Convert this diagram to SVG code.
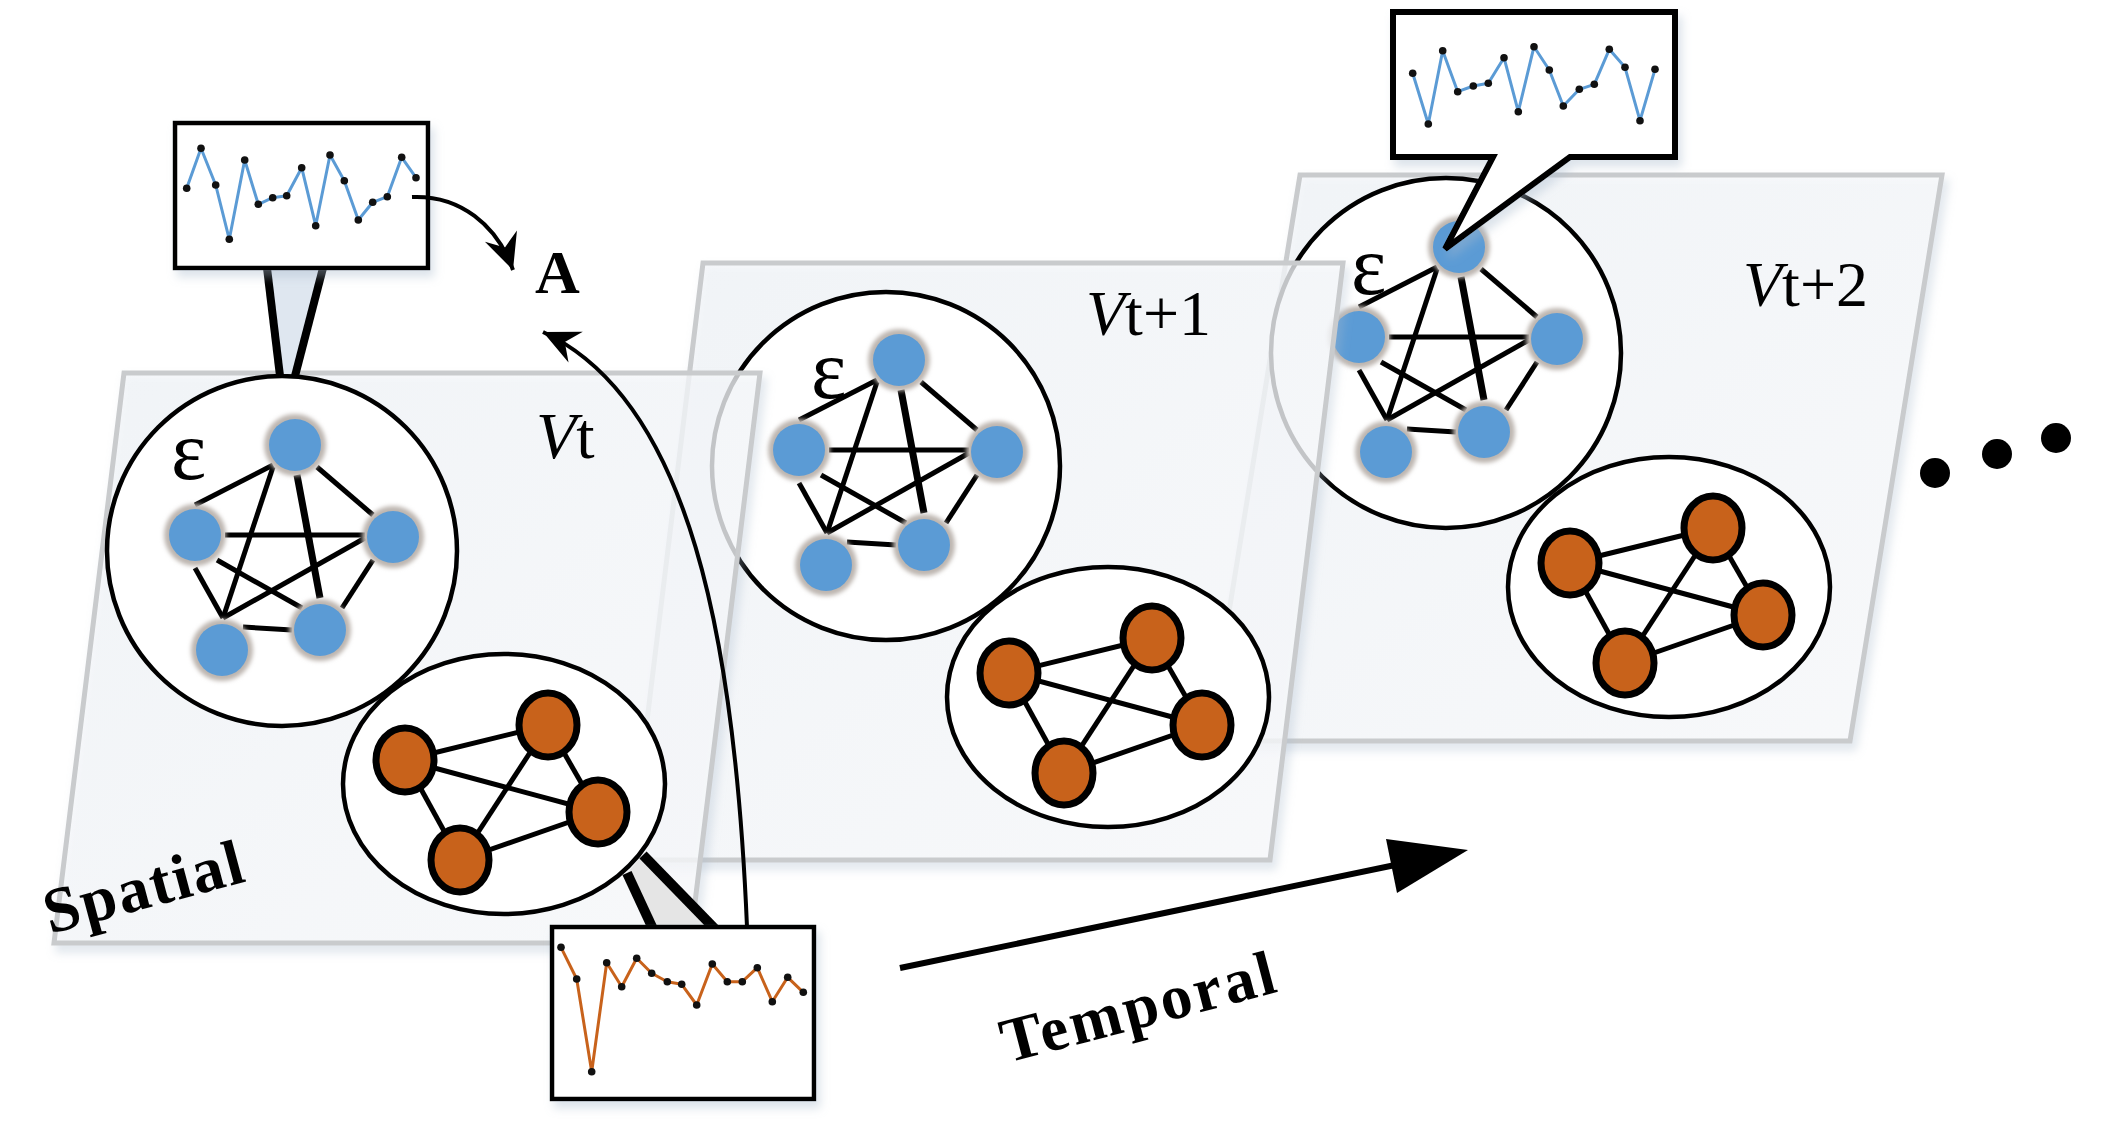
<svg xmlns="http://www.w3.org/2000/svg" width="2106" height="1144" viewBox="0 0 2106 1144">
<defs>
<style>
.plane{fill:url(#pg);fill-opacity:0.72;stroke:#c9cbcd;stroke-width:5;stroke-linejoin:miter}
.big{fill:#fff;stroke:#000;stroke-width:4.5}
.e{stroke:#000;stroke-width:5}
.et{stroke:#000;stroke-width:7}
.halo{fill:#bdb6b0}
.bn{fill:#5b9bd5}
.on{fill:#c8621b;stroke:#000;stroke-width:7}
.box{fill:#fff;stroke:#000;stroke-width:4.5}
.sb{fill:none;stroke:#5b9bd5;stroke-width:3;stroke-linejoin:round}
.so{fill:none;stroke:#c8621b;stroke-width:3;stroke-linejoin:round}
.dot{fill:#111}
.lbl{fill:#000}
.conn{fill:none;stroke:#000;stroke-width:4}
.wl{stroke:#000;stroke-width:8}
</style>
<linearGradient id="pg" x1="0" y1="0" x2="1" y2="1">
<stop offset="0" stop-color="#f3f6f9"/><stop offset="1" stop-color="#fdfdfe"/>
</linearGradient>
<filter id="sh" x="-10%" y="-10%" width="130%" height="130%">
<feDropShadow dx="4" dy="7" stdDeviation="5" flood-color="#a9b9cc" flood-opacity="0.4"/>
</filter>
<filter id="blur" x="-50%" y="-50%" width="200%" height="200%"><feGaussianBlur stdDeviation="2"/></filter>
<marker id="ah" viewBox="-38 -19 40 38" refX="0" refY="0" markerWidth="40" markerHeight="38" markerUnits="userSpaceOnUse" orient="auto">
<path d="M0,0 L-36,-17 L-24,0 L-36,17 Z" fill="#000"/>
</marker>
<g id="pent">
<line class="e" x1="-87" y1="-46" x2="-9" y2="-86"/>
<line class="e" x1="-9" y1="-84" x2="-59" y2="67"/>
<line class="et" x1="15" y1="-76" x2="38" y2="47"/>
<line class="e" x1="35" y1="-84" x2="91" y2="-36"/>
<line class="e" x1="-57" y1="-16" x2="83" y2="-16"/>
<line class="e" x1="-65" y1="9" x2="20" y2="57"/>
<line class="e" x1="83" y1="-13" x2="-59" y2="67"/>
<line class="e" x1="-87" y1="17" x2="-59" y2="67"/>
<line class="e" x1="91" y1="9" x2="60" y2="57"/>
<line class="e" x1="-39" y1="76" x2="10" y2="79"/>
<circle class="halo" cx="13" cy="-106" r="31" filter="url(#blur)"/><circle class="bn" cx="13" cy="-106" r="26"/>
<circle class="halo" cx="-87" cy="-16" r="31" filter="url(#blur)"/><circle class="bn" cx="-87" cy="-16" r="26"/>
<circle class="halo" cx="111" cy="-14" r="31" filter="url(#blur)"/><circle class="bn" cx="111" cy="-14" r="26"/>
<circle class="halo" cx="-60" cy="99" r="31" filter="url(#blur)"/><circle class="bn" cx="-60" cy="99" r="26"/>
<circle class="halo" cx="38" cy="79" r="31" filter="url(#blur)"/><circle class="bn" cx="38" cy="79" r="26"/>
</g>
<g id="k4">
<line class="e" x1="-99" y1="-24" x2="44" y2="-59"/>
<line class="e" x1="-99" y1="-24" x2="94" y2="28"/>
<line class="e" x1="-99" y1="-24" x2="-44" y2="76"/>
<line class="e" x1="44" y1="-59" x2="-44" y2="76"/>
<line class="e" x1="44" y1="-59" x2="94" y2="28"/>
<line class="e" x1="-44" y1="76" x2="94" y2="28"/>
<ellipse class="on" cx="-99" cy="-24" rx="29" ry="32"/>
<ellipse class="on" cx="44" cy="-59" rx="29" ry="32"/>
<ellipse class="on" cx="94" cy="28" rx="29" ry="32"/>
<ellipse class="on" cx="-44" cy="76" rx="29" ry="32"/>
</g>
</defs>
<rect width="2106" height="1144" fill="#fff"/>

<g id="plane-t2">
<polygon class="plane" points="1300,175 1942,175 1850,741 1208,741" filter="url(#sh)"/>
<g id="cluster-t2-blue"><circle class="big" cx="1446" cy="353" r="175"/><use href="#pent" x="1446" y="353"/>
<text class="lbl" font-family="Liberation Serif, Times New Roman, serif" x="1351" y="294" font-size="84">ε</text></g>
<g id="cluster-t2-orange"><ellipse class="big" cx="1669" cy="587" rx="161" ry="130"/><use href="#k4" x="1669" y="587"/></g>
<text class="lbl" font-family="Liberation Serif, Times New Roman, serif" x="1743" y="306" font-size="64"><tspan font-style="italic">V</tspan>t+2</text>
</g>

<g id="plane-t1">
<polygon class="plane" points="703,263 1343,263 1270,860 630,860" filter="url(#sh)"/>
<g id="cluster-t1-blue"><circle class="big" cx="886" cy="466" r="174"/><use href="#pent" x="886" y="466"/>
<text class="lbl" font-family="Liberation Serif, Times New Roman, serif" x="811" y="398" font-size="84">ε</text></g>
<g id="cluster-t1-orange"><ellipse class="big" cx="1108" cy="697" rx="161" ry="130"/><use href="#k4" x="1108" y="697"/></g>
<text class="lbl" font-family="Liberation Serif, Times New Roman, serif" x="1086" y="335" font-size="64"><tspan font-style="italic">V</tspan>t+1</text>
</g>

<g id="plane-t0">
<polygon class="plane" points="124,373 760,373 690,943 54,943" filter="url(#sh)"/>
<g id="cluster-t0-blue"><circle class="big" cx="282" cy="551" r="175"/><use href="#pent" x="282" y="551"/>
<text class="lbl" font-family="Liberation Serif, Times New Roman, serif" x="171" y="479" font-size="84">ε</text></g>
<g id="cluster-t0-orange"><ellipse class="big" cx="504" cy="784" rx="161" ry="130"/><use href="#k4" x="504" y="784"/></g>
<text class="lbl" font-family="Liberation Serif, Times New Roman, serif" x="536" y="458" font-size="66"><tspan font-style="italic">V</tspan>t</text>
<text class="lbl" font-family="Liberation Serif, Times New Roman, serif" font-weight="bold" x="50" y="934" font-size="64" letter-spacing="2" transform="rotate(-15 50 934)">Spatial</text>
</g>

<g id="series-blue-1">
<polygon points="267,268 323,268 296,374 279,374" fill="#dfe7f0"/>
<line class="wl" x1="267" y1="268" x2="280" y2="376"/>
<line class="wl" x1="323" y1="268" x2="295" y2="376"/>
<rect class="box" x="175" y="123" width="253" height="145" filter="url(#sh)"/>
<polyline class="sb" points="186.7,188.3 201,148.3 215.7,185 229.3,239.3 244.7,160 258.3,204.3 272.7,197.7 286.7,195.7 301.7,167.7 315.7,225.7 330,155 344.3,180.7 358.3,220 372.7,202.3 387.3,196.7 401.7,157.3 416,177.7"/>
<g class="dot">
<circle cx="186.7" cy="188.3" r="3.8"/><circle cx="201" cy="148.3" r="3.8"/><circle cx="215.7" cy="185" r="3.8"/><circle cx="229.3" cy="239.3" r="3.8"/><circle cx="244.7" cy="160" r="3.8"/><circle cx="258.3" cy="204.3" r="3.8"/><circle cx="272.7" cy="197.7" r="3.8"/><circle cx="286.7" cy="195.7" r="3.8"/><circle cx="301.7" cy="167.7" r="3.8"/><circle cx="315.7" cy="225.7" r="3.8"/><circle cx="330" cy="155" r="3.8"/><circle cx="344.3" cy="180.7" r="3.8"/><circle cx="358.3" cy="220" r="3.8"/><circle cx="372.7" cy="202.3" r="3.8"/><circle cx="387.3" cy="196.7" r="3.8"/><circle cx="401.7" cy="157.3" r="3.8"/><circle cx="416" cy="177.7" r="3.8"/>
</g>
</g>

<g id="series-orange">
<polygon points="627,873 643,855 713,927 652,927" fill="#e5e5e5"/>
<line x1="627" y1="873" x2="653" y2="929" stroke="#000" stroke-width="10"/>
<line x1="643" y1="855" x2="715" y2="929" stroke="#000" stroke-width="10"/>
<rect class="box" x="552" y="927" width="262" height="172" filter="url(#sh)"/>
<polyline class="so" points="561,947.3 576.7,979 591.7,1071.7 606.7,962.7 621.7,986.7 636.7,958.3 651.7,973.3 667.3,981.7 681.7,984.3 696.7,1005 712.3,964 727.3,981.7 742.3,981.7 757.3,967.7 772.3,1001.7 787.7,977.3 803.3,992.3"/>
<g class="dot">
<circle cx="561" cy="947.3" r="3.8"/><circle cx="576.7" cy="979" r="3.8"/><circle cx="591.7" cy="1071.7" r="3.8"/><circle cx="606.7" cy="962.7" r="3.8"/><circle cx="621.7" cy="986.7" r="3.8"/><circle cx="636.7" cy="958.3" r="3.8"/><circle cx="651.7" cy="973.3" r="3.8"/><circle cx="667.3" cy="981.7" r="3.8"/><circle cx="681.7" cy="984.3" r="3.8"/><circle cx="696.7" cy="1005" r="3.8"/><circle cx="712.3" cy="964" r="3.8"/><circle cx="727.3" cy="981.7" r="3.8"/><circle cx="742.3" cy="981.7" r="3.8"/><circle cx="757.3" cy="967.7" r="3.8"/><circle cx="772.3" cy="1001.7" r="3.8"/><circle cx="787.7" cy="977.3" r="3.8"/><circle cx="803.3" cy="992.3" r="3.8"/>
</g>
</g>

<g id="series-blue-2">
<path d="M1393,12 H1675 V157 H1570 L1445,249 L1493,157 H1393 Z" fill="#fff" stroke="#000" stroke-width="6" filter="url(#sh)"/>
<polyline class="sb" points="1412.7,73.3 1428.3,124 1442.7,50.7 1457.7,91.7 1473.3,86 1488.3,83.3 1504,57.7 1518.3,111.7 1534,46.7 1549.3,70 1563.3,106 1579.3,89.3 1594.3,84.3 1609.3,49.3 1625,67.3 1640,120.7 1655,69.3"/>
<g class="dot">
<circle cx="1412.7" cy="73.3" r="3.8"/><circle cx="1428.3" cy="124" r="3.8"/><circle cx="1442.7" cy="50.7" r="3.8"/><circle cx="1457.7" cy="91.7" r="3.8"/><circle cx="1473.3" cy="86" r="3.8"/><circle cx="1488.3" cy="83.3" r="3.8"/><circle cx="1504" cy="57.7" r="3.8"/><circle cx="1518.3" cy="111.7" r="3.8"/><circle cx="1534" cy="46.7" r="3.8"/><circle cx="1549.3" cy="70" r="3.8"/><circle cx="1563.3" cy="106" r="3.8"/><circle cx="1579.3" cy="89.3" r="3.8"/><circle cx="1594.3" cy="84.3" r="3.8"/><circle cx="1609.3" cy="49.3" r="3.8"/><circle cx="1625" cy="67.3" r="3.8"/><circle cx="1640" cy="120.7" r="3.8"/><circle cx="1655" cy="69.3" r="3.8"/>
</g>
</g>

<g id="label-A">
<text class="lbl" font-family="Liberation Serif, Times New Roman, serif" font-weight="bold" x="535" y="293" font-size="62">A</text>
</g>

<g id="connectors">
<path class="conn" d="M412,197 C460,195 497,225 513,270" marker-end="url(#ah)"/>
<path class="conn" d="M747,927 C735,640 690,400 543,332" marker-end="url(#ah)"/>
<line x1="900" y1="968" x2="1400" y2="864" stroke="#000" stroke-width="6"/>
<polygon points="1386,839 1468,850 1397,893" fill="#000"/>
</g>

<g id="label-temporal">
<text class="lbl" font-family="Liberation Serif, Times New Roman, serif" font-weight="bold" x="1007" y="1063" font-size="63" letter-spacing="3" transform="rotate(-14.7 1007 1063)">Temporal</text>
</g>

<g id="ellipsis">
<circle cx="1935" cy="473" r="15" fill="#000"/>
<circle cx="1997" cy="454" r="15" fill="#000"/>
<circle cx="2056" cy="438" r="15" fill="#000"/>
</g>
</svg>
